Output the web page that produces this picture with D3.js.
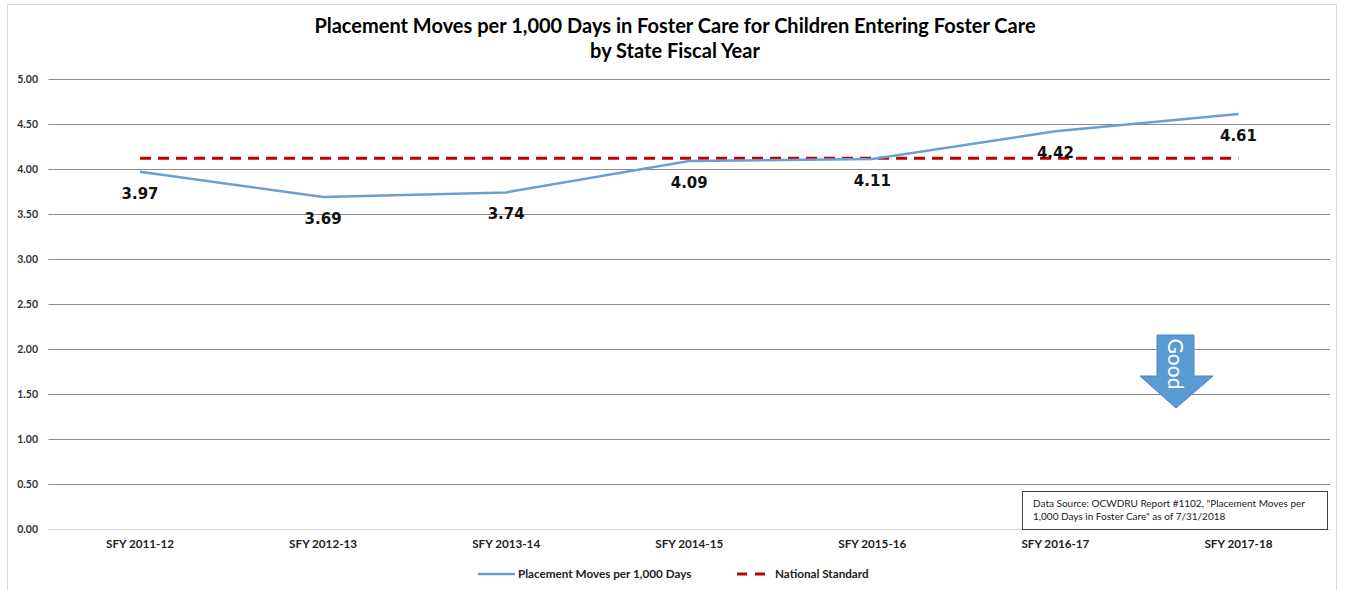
<!DOCTYPE html>
<html><head><meta charset="utf-8">
<script src="https://cdn.jsdelivr.net/npm/d3@7"></script>
<style>body{margin:0;background:#fff;}svg{display:block;}</style>
</head><body>
<svg id="c" width="1347" height="590"></svg>
<script>
const categories = ["SFY 2011-12","SFY 2012-13","SFY 2013-14","SFY 2014-15","SFY 2015-16","SFY 2016-17","SFY 2017-18"];
const moves = [3.97, 3.69, 3.74, 4.09, 4.11, 4.42, 4.61];
const nationalStandard = [4.12, 4.12, 4.12, 4.12, 4.12, 4.12, 4.12];
const yTicks = [0, 0.5, 1, 1.5, 2, 2.5, 3, 3.5, 4, 4.5, 5];

(function () {
const svg = d3.select("#c");
const pLeft = 48.5, pRight = 1330, pTop = 79, pBottom = 529;
const x = d3.scaleBand().domain(categories).range([pLeft, pRight]);
const y = d3.scaleLinear().domain([0, 5]).range([pBottom, pTop]);
const cx = d => x(d) + x.bandwidth() / 2;

// frame
svg.append("rect").attr("x", 7.5).attr("y", 4.5).attr("width", 1329).attr("height", 600)
  .attr("fill", "none").attr("stroke", "#d9d9d9").attr("stroke-width", 1);

// title
const title = svg.append("text").attr("x", 675).attr("y", 33).attr("text-anchor", "middle")
  .attr("font-family", "Lato, 'Open Sans', sans-serif").attr("font-weight", "bold").attr("font-size", 20).attr("fill", "#000");
title.append("tspan").attr("x", 675).attr("dy", 0).text("Placement Moves per 1,000 Days in Foster Care for Children Entering Foster Care");
title.append("tspan").attr("x", 675).attr("dy", 25).text("by State Fiscal Year");

// grid
svg.append("g").selectAll("line").data(yTicks).join("line")
  .attr("x1", pLeft).attr("x2", pRight)
  .attr("y1", d => Math.round(y(d)) + 0.5).attr("y2", d => Math.round(y(d)) + 0.5)
  .attr("stroke", d => d === 0 ? "#d9d9d9" : "#8c8c8c").attr("stroke-width", 1);

// y axis labels
const yAxis = d3.axisLeft(y).tickValues(yTicks).tickFormat(d3.format(".2f")).tickSize(0).tickPadding(0);
const gy = svg.append("g").attr("transform", `translate(38,0)`).call(yAxis);
gy.select(".domain").remove();
gy.selectAll("text").attr("font-family", "Lato, sans-serif").attr("font-weight", "bold")
  .attr("font-size", 10.5).attr("fill", "#333");

// x axis labels
const xAxis = d3.axisBottom(x).tickSize(0).tickPadding(0);
const gx = svg.append("g").attr("transform", `translate(0,${pBottom + 11})`).call(xAxis);
gx.select(".domain").remove();
gx.selectAll("text").attr("font-family", "Lato, sans-serif").attr("font-weight", "bold")
  .attr("font-size", 11.7).attr("fill", "#222");

// national standard
svg.append("path").datum(nationalStandard)
  .attr("d", d3.line().x((d, i) => cx(categories[i])).y(d => y(d)))
  .attr("fill", "none").attr("stroke", "#c00000").attr("stroke-width", 3)
  .attr("stroke-dasharray", "11,7");

// moves line
svg.append("path").datum(moves)
  .attr("d", d3.line().x((d, i) => cx(categories[i])).y(d => y(d)))
  .attr("fill", "none").attr("stroke", "#6a9fd6").attr("stroke-width", 2.5);

// data labels
svg.append("g").selectAll("text").data(moves).join("text")
  .attr("x", (d, i) => cx(categories[i])).attr("y", d => y(d) + 27)
  .attr("text-anchor", "middle").attr("font-family", "'DejaVu Sans', sans-serif")
  .attr("font-weight", "bold").attr("font-size", 15).attr("fill", "#111")
  .text(d => d.toFixed(2));

// Good arrow
const ag = svg.append("g");
ag.append("path").attr("d", "M1157,335 L1194,335 L1194,376 L1213,376 L1176,408 L1140,376 L1157,376 Z")
  .attr("fill", "#5b9bd5").attr("stroke", "#4a86c0").attr("stroke-width", 1);
ag.append("text").attr("transform", "translate(1168,364) rotate(90)").attr("text-anchor", "middle")
  .attr("font-family", "Lato, sans-serif").attr("font-size", 21).attr("fill", "#fff").text("Good");

// data source box
svg.append("rect").attr("x", 1022.5).attr("y", 491.5).attr("width", 305).attr("height", 38)
  .attr("fill", "#fff").attr("stroke", "#404040").attr("stroke-width", 1);
const ds = svg.append("text").attr("font-family", "Lato, sans-serif").attr("font-size", 10).attr("fill", "#222");
ds.append("tspan").attr("x", 1033).attr("y", 507).text("Data Source: OCWDRU Report #1102, \"Placement Moves per");
ds.append("tspan").attr("x", 1033).attr("y", 520).text("1,000 Days in Foster Care\" as of 7/31/2018");

// legend
const lg = svg.append("g");
lg.append("line").attr("x1", 478).attr("x2", 515).attr("y1", 574).attr("y2", 574)
  .attr("stroke", "#6a9fd6").attr("stroke-width", 2.5);
lg.append("text").attr("x", 518).attr("y", 578).attr("font-family", "Lato, sans-serif")
  .attr("font-weight", "bold").attr("font-size", 11.7).attr("fill", "#222").text("Placement Moves per 1,000 Days");
lg.append("line").attr("x1", 737).attr("x2", 769).attr("y1", 574).attr("y2", 574)
  .attr("stroke", "#c00000").attr("stroke-width", 3).attr("stroke-dasharray", "10,8");
lg.append("text").attr("x", 775).attr("y", 578).attr("font-family", "Lato, sans-serif")
  .attr("font-weight", "bold").attr("font-size", 11.7).attr("fill", "#222").text("National Standard");
})();
</script>
</body></html>
